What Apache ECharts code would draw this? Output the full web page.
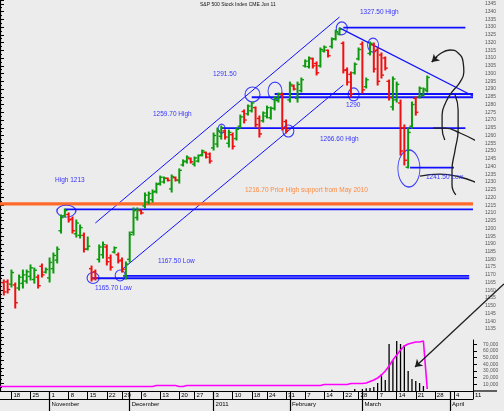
<!DOCTYPE html>
<html><head><meta charset="utf-8">
<script src="https://cdn.jsdelivr.net/npm/echarts/dist/echarts.min.js"></script>
<style>html,body{margin:0;padding:0;background:#ececec}#c{width:504px;height:411px}</style>
</head><body><div id="c"></div><script>
// ---- categories (trading days) ----
const holidays = ['2010-11-25','2010-12-24','2011-01-17','2011-02-21'];
const dates = [];
(function(){let d=new Date(Date.UTC(2010,9,13));const end=Date.UTC(2011,3,11);
 while(d.getTime()<=end){const w=d.getUTCDay();const s=d.toISOString().slice(0,10);
  if(w>0&&w<6&&holidays.indexOf(s)<0)dates.push(s);d.setUTCDate(d.getUTCDate()+1);}})();
const monthLabels = {'11':'November','12':'December','01':'2011','02':'February','03':'March','04':'April'};

// ---- OHLC (index 0 = 2010-10-13) ----
const openP = [
 null,1165.0,1165.5,1164.0,1163.5,1161.5,1164.5,1166.0,1169.0,1167.0,
 1168.5,1175.5,1171.75,1168.0,1174.0,1179.5,1198.5,1208.25,1209.0,1206.0,
 1196.5,1195.5,1195.5,1186.75,1174.0,1172.0,1180.0,1183.0,1188.0,1181.0,
 1184.75,1183.0,1179.5,1169.5,1180.0,1197.5,1207.0,1211.5,1214.5,1217.0,
 1218.5,1224.0,1229.0,1230.0,1232.25,1225.5,1232.75,1231.0,1241.0,1243.0,
 1245.0,1241.5,1243.5,1247.5,1249.0,1248.0,1252.0,1254.5,1259.5,1263.0,
 1255.0,1260.5,1258.0,1266.0,1275.5,1274.0,1276.0,1278.0,1271.0,1269.5,
 1272.5,1271.5,1277.5,1282.5,1286.5,1269.0,1283.0,1292.0,1284.0,1289.0,
 1305.0,1304.5,1309.5,1306.5,1305.0,1314.5,1315.0,1317.5,1322.5,1325.5,
 1319.5,1302.5,1299.5,1300.5,1309.5,1319.0,1291.5,1313.0,1318.5,1315.0,
 1312.0,1310.0,1295.0,1278.5,1283.0,1281.0,1265.0,1239.5,1266.0,1284.0,1285.0,1286.0,1289.0];
const highP = [
 null,1166.7,1166.7,1173.1,1164.7,1169.9,1173.1,1173.1,1176.4,1174.4,
 1169.9,1177.0,1174.4,1180.9,1184.1,1188.0,1208.7,1212.5,1210.0,1207.4,
 1205.4,1202.2,1197.0,1194.4,1175.7,1173.1,1189.3,1191.2,1189.3,1182.8,
 1188.0,1184.1,1180.9,1178.3,1197.7,1213.2,1213.2,1211.9,1222.9,1223.5,
 1224.8,1229.3,1233.8,1233.2,1232.5,1234.5,1233.2,1238.4,1244.2,1246.8,
 1245.5,1246.1,1247.4,1250.6,1249.3,1248.7,1261.6,1264.8,1266.1,1263.5,
 1263.5,1261.6,1264.8,1273.2,1276.5,1279.7,1281.6,1278.4,1272.6,1275.2,
 1279.0,1278.4,1284.9,1287.4,1287.4,1270.0,1294.5,1292.6,1294.5,1297.1,
 1308.8,1310.7,1310.0,1307.5,1316.5,1317.8,1315.2,1323.0,1328.1,1329.4,
 1320.4,1303.6,1301.0,1306.8,1316.5,1320.4,1297.1,1320.4,1319.7,1316.5,
 1313.3,1310.7,1295.8,1297.8,1294.5,1282.9,1266.8,1264.8,1281.6,1284.9,1291.3,1290.7,1298.4];
const lowP = [
 null,1157.0,1158.3,1162.2,1148.6,1160.2,1161.5,1164.7,1166.7,1164.7,
 1161.5,1168.6,1171.2,1165.4,1171.2,1177.7,1197.0,1207.4,1204.1,1197.0,
 1194.4,1193.8,1184.8,1186.1,1166.0,1166.7,1178.3,1180.9,1176.4,1173.1,
 1184.1,1177.7,1171.8,1167.3,1178.3,1195.7,1205.4,1209.3,1213.2,1215.8,
 1217.0,1222.9,1228.0,1229.3,1230.6,1223.5,1230.6,1229.3,1240.3,1242.2,
 1242.2,1240.3,1242.9,1246.8,1245.5,1242.2,1250.6,1252.6,1257.7,1257.7,
 1252.6,1251.3,1257.1,1264.8,1268.1,1273.2,1275.2,1265.5,1259.0,1268.7,
 1271.3,1270.6,1276.5,1281.6,1263.5,1261.6,1281.6,1289.4,1281.6,1288.1,
 1304.2,1303.6,1303.6,1299.1,1304.2,1313.9,1310.7,1316.5,1321.7,1324.9,
 1300.4,1292.6,1284.9,1299.7,1308.8,1287.4,1290.7,1312.0,1301.0,1292.6,
 1297.1,1302.3,1282.9,1276.5,1281.6,1247.4,1241.0,1239.0,1264.8,1273.2,1284.2,1285.5,1288.1];
const closeP = [
 null,1159.0,1160.5,1171.5,1152.0,1168.5,1170.0,1172.0,1174.5,1173.0,
 1163.0,1170.0,1173.5,1178.0,1182.5,1186.5,1207.0,1211.5,1205.5,1198.5,
 1203.5,1200.5,1186.5,1188.5,1167.5,1168.0,1188.0,1189.5,1178.5,1175.0,
 1187.5,1179.0,1173.5,1177.0,1196.0,1211.5,1212.0,1210.0,1221.5,1222.5,
 1223.5,1228.5,1233.0,1232.5,1231.0,1233.5,1231.25,1237.5,1243.5,1246.0,
 1243.0,1245.5,1247.0,1250.0,1246.0,1243.5,1260.0,1263.0,1265.0,1259.0,
 1262.0,1253.0,1264.0,1272.0,1270.0,1279.0,1281.0,1267.0,1261.0,1274.5,
 1278.0,1277.5,1284.0,1287.0,1265.0,1263.5,1293.0,1290.0,1293.0,1296.0,
 1308.0,1310.0,1305.0,1300.5,1315.5,1317.0,1311.5,1322.0,1327.0,1328.5,
 1302.0,1294.5,1287.0,1306.0,1315.5,1289.5,1296.0,1319.5,1303.0,1295.0,
 1299.0,1303.5,1284.5,1296.5,1293.0,1250.0,1244.0,1262.0,1280.0,1275.0,1290.5,1290.0,1297.5];

// ---- volume and open interest (lower pane) ----
const volume = [];
const volumeIdx = [87,93,95,96,97,98,99,100,101,102,103,104,105,106,107,108,109,110,111];
const volumeVal = [2000,3000,3000,4000,4500,6000,12000,25500,16500,70500,46500,75000,70500,69000,30000,18000,15000,12000,7500];
const openInt = [
 6750,6750,6750,6750,6750,6750,6750,6750,6750,6750,
 6750,6750,6750,6750,6750,6750,6750,6750,6750,6750,
 6750,6750,6750,6750,6750,6750,6750,6750,6750,6750,
 6750,6750,6750,6750,6750,6750,6750,6750,6750,6750,
 6750,8250,8250,8250,8250,8250,8250,6750,6750,8250,
 8250,8250,8250,8250,8250,8250,8250,8250,8250,8250,
 8250,8250,8250,8250,8250,8250,8250,8250,8250,8250,
 8250,8250,8250,8250,8250,8250,8250,8250,8250,8250,
 8250,8250,8250,8250,8250,9750,9750,9750,9750,9750,
 9750,9750,11250,11250,11250,11250,12000,14250,16500,19500,
 24000,30000,37500,46500,54000,61500,67500,70500,72000,73500,73500,75000,3000];

// ---- annotations (index, price) ----
const upperChannel = [[25,1203.5],[89,1336.5]];
const lowerChannel = [[32,1173.5],[90,1292.6]];
const resistance = [[89,1329.5],[124,1285.5]];
const hLines = [
 {from:90,to:122,v:1329.7},{from:72,to:124,v:1286.8},{from:66,to:124,v:1284.7},
 {from:58,to:122,v:1264.8},{from:107.5,to:119,v:1239.3},{from:17,to:124,v:1212.3},
 {from:32.3,to:123,v:1169.3},{from:24,to:123,v:1167.8}];
const supportLine = {from:0,to:124,v:1215.8};
const circles = [
 [17.4,1211.2,19,12],[24.4,1168.0,12,11],[31.5,1169.6,10,11],[58.1,1264.5,7,9],
 [66.2,1286.5,15,15],[72.1,1288.7,14,18],[75.6,1262.9,11,12],[89.6,1329.2,11,13],
 [97.8,1318.4,11,14],[92.7,1286.5,11,13],[107.2,1238.7,22,37]];
const bigArrow = [[132.1,1164.1],[108.8,1110.5]];
const sketchA = [[113.2,1307.5],[115.3,1312.6],[118.0,1315.2],[120.1,1313.3],[121.4,1307.5],[121.6,1301.0],
 [120.6,1294.5],[118.5,1288.1],[116.9,1281.6],[115.9,1273.2],[115.9,1264.8],[116.6,1257.1]];
const sketchArrowHead = [[114.6,1310.7],[113.2,1307.5]];
const sketchB = [[119.3,1286.1],[120.1,1276.5],[120.1,1263.5],[119.3,1250.6],[118.5,1237.7],[118.5,1228.0],[119.5,1221.6]];
const sweep1 = [[113.5,1264.8],[116.6,1264.8],[120.6,1261.6],[125.8,1255.1],[132.1,1245.5]];
const sweep2 = [[110.1,1233.8],[115.3,1235.1],[120.6,1233.2],[125.8,1228.7],[132.1,1222.2]];

volumeIdx.forEach((k,j)=>{volume[k]=volumeVal[j];});
for(let i=0;i<openInt.length;i++) if(volume[i]===undefined) volume[i]=0;

const dow = s => new Date(s+'T00:00:00Z').getUTCDay();
const weekStart = i => i>0 && dow(dates[i]) < dow(dates[i-1]);
const monthStart = i => i>0 && dates[i].slice(5,7)!==dates[i-1].slice(5,7);

const ohlc = [];
for(let i=0;i<openP.length;i++) if(openP[i]!=null) ohlc.push([i,openP[i],highP[i],lowP[i],closeP[i]]);

const BLUE='#1010ff', INK='#1e1e1e';
const series = [];
series.push({type:'custom',xAxisIndex:0,yAxisIndex:0,data:ohlc,encode:{x:0,y:[1,2,3,4]},z:5,
 renderItem:function(params,api){
  const i=api.value(0);
  const ph=api.coord([i,api.value(2)]), pl=api.coord([i,api.value(3)]);
  const yo=api.coord([i,api.value(1)])[1], yc=api.coord([i,api.value(4)])[1];
  const x=ph[0];
  const col=api.value(4)>=api.value(1)?'#0e9a0e':'#ee1111';
  return {type:'group',children:[
   {type:'line',shape:{x1:x,y1:ph[1]-0.5,x2:x,y2:pl[1]+0.5},style:{stroke:col,lineWidth:2}},
   {type:'line',shape:{x1:x-2.6,y1:yo,x2:x,y2:yo},style:{stroke:col,lineWidth:1.4}},
   {type:'line',shape:{x1:x,y1:yc,x2:x+2.6,y2:yc},style:{stroke:col,lineWidth:1.4}}]};
 }});
function lineSeries(pts,color,w,extra){return Object.assign({type:'line',xAxisIndex:3,yAxisIndex:0,data:pts,symbol:'none',silent:true,animation:false,clip:false,lineStyle:{color:color,width:w},z:3},extra||{});}
series.push(lineSeries(upperChannel,BLUE,1));
series.push(lineSeries(lowerChannel,BLUE,1));
series.push(lineSeries(resistance,BLUE,1.2));
hLines.forEach(h=>series.push(lineSeries([[h.from,h.v],[h.to,h.v]],BLUE,1.8)));
series.push(lineSeries([[supportLine.from,supportLine.v],[supportLine.to,supportLine.v]],'#ff6a2a',3.2));
[sketchA,sketchB,sweep1,sweep2].forEach(s=>series.push(lineSeries(s,INK,1.3,{smooth:0.5,z:6})));
series.push({type:'scatter',xAxisIndex:3,yAxisIndex:0,silent:true,z:4,
 data:circles.map(c=>({value:[c[0],c[1]],symbolSize:[c[2],c[3]]})),symbol:'circle',
 itemStyle:{color:'rgba(0,0,0,0)',borderColor:BLUE,borderWidth:1.1}});
series.push({type:'lines',coordinateSystem:'cartesian2d',xAxisIndex:3,yAxisIndex:0,silent:true,clip:false,z:6,
 symbol:['none','arrow'],symbolSize:7,lineStyle:{color:INK,width:1.3,opacity:1},
 data:[{coords:bigArrow},{coords:sketchArrowHead}]});
series.push({type:'bar',xAxisIndex:4,yAxisIndex:1,data:volume,barWidth:1.3,itemStyle:{color:'#000'},silent:true,z:2});
series.push({type:'line',xAxisIndex:4,yAxisIndex:1,data:openInt,symbol:'none',lineStyle:{color:'#ff00ff',width:1.6},silent:true,z:2});

const FF='Liberation Sans, Arial, sans-serif';
const texts = [
 ['S&P 500 Stock Index CME Jun 11',200,5,'#111',5],
 ['1327.50 High',360,12,'#3535ff',6.5],['1291.50',213,74,'#3535ff',6.5],
 ['1259.70 High',153,114,'#3535ff',6.5],['1290',346,105,'#3535ff',6.5],
 ['1266.60 High',320,139,'#3535ff',6.5],['High 1213',55,180,'#3535ff',6.5],
 ['1216.70 Prior High support from May 2010',245,190,'#ff8a40',6.5],
 ['1167.50 Low',158,261,'#3535ff',6.5],['1165.70 Low',95,288,'#3535ff',6.5],
 ['1241.50 Low',426,177,'#3535ff',6.5]];

const chart = echarts.init(document.getElementById('c'),null,{renderer:'canvas'});
chart.setOption({
 animation:false, backgroundColor:'#ececec',
 grid:[{left:0,top:0,width:473,height:391},{left:0,top:340,width:473,height:51}],
 xAxis:[
  {type:'category',gridIndex:0,position:'bottom',data:dates,boundaryGap:false,
   axisLine:{onZero:false,lineStyle:{color:'#000',width:1.2}},
   axisTick:{interval:(i)=>weekStart(i),length:8,lineStyle:{color:'#000'}},
   axisLabel:{interval:(i)=>weekStart(i),formatter:v=>String(+v.slice(8)),fontSize:6,color:'#000',align:'left',margin:1.5,padding:[0,0,0,2],fontFamily:FF},
   splitLine:{show:false}},
  {type:'category',gridIndex:0,position:'bottom',offset:0,data:dates,boundaryGap:false,axisLine:{show:false,onZero:false},
   axisTick:{interval:(i)=>monthStart(i),length:20,lineStyle:{color:'#000',width:1.2}},
   axisLabel:{interval:(i)=>monthStart(i),formatter:v=>monthLabels[v.slice(5,7)],fontSize:6,color:'#000',align:'left',margin:10,padding:[0,0,0,2],fontFamily:FF},
   splitLine:{show:false}},
  {type:'category',gridIndex:0,position:'bottom',data:dates,boundaryGap:false,offset:8,axisLine:{onZero:false,lineStyle:{color:'#000',width:1.2}},axisTick:{show:false},axisLabel:{show:false}},
  {type:'value',gridIndex:0,min:0,max:124,show:false},
  {type:'category',gridIndex:1,data:dates,boundaryGap:false,show:false}
 ],
 yAxis:[
  {type:'value',gridIndex:0,position:'right',min:1095,max:1347.5,interval:5,
   axisLine:{show:true,lineStyle:{color:'#000',width:1.2}},
   axisTick:{show:true,length:4,lineStyle:{color:'#000'}},
   minorTick:{show:true,splitNumber:2,length:2,lineStyle:{color:'#000'}},
   splitLine:{show:false},
   axisLabel:{fontSize:5,color:'#555',margin:12,formatter:v=>v>=1135?String(v):'',fontFamily:FF}},
  {type:'value',gridIndex:1,position:'right',min:0,max:76500,interval:10000,
   axisLine:{show:true,lineStyle:{color:'#000'}},axisTick:{show:true,length:4,lineStyle:{color:'#000'}},
   splitLine:{show:false},
   axisLabel:{fontSize:5,color:'#555',margin:10,showMinLabel:false,fontFamily:FF}}
 ],
 series:series,
 graphic:texts.map(t=>({type:'text',x:t[1],y:t[2],silent:true,z:10,
   style:{text:t[0],fill:t[3],fontSize:t[4],fontFamily:FF,verticalAlign:'middle'}}))
   .concat([{type:'line',shape:{x1:473,y1:391,x2:497,y2:391},style:{stroke:'#000',lineWidth:1.2},silent:true}])
});
</script></body></html>
